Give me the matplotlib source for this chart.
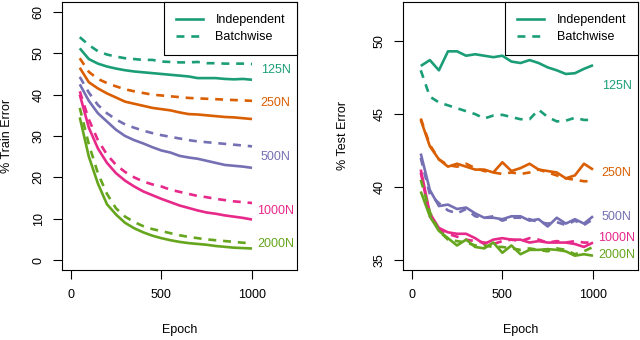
import matplotlib.pyplot as plt

plt.rcParams["font.family"] = ["Liberation Sans", "DejaVu Sans"]
plt.rcParams["font.size"] = 9

epochs = list(range(50, 1001, 50))
sizes = ["125N", "250N", "500N", "1000N", "2000N"]
colors = ["#1B9E77", "#D95F02", "#7570B3", "#E7298A", "#66A61E"]

# train error (%), independent vs batchwise
train_indep = {
    "125N": [51.2, 48.6, 47.5, 46.8, 46.3, 45.9, 45.6, 45.4, 45.2, 45.0,
             44.8, 44.6, 44.4, 44.0, 44.0, 44.0, 43.8, 43.7, 43.8, 43.6],
    "250N": [46.5, 43.0, 41.5, 40.3, 39.3, 38.3, 37.8, 37.3, 36.8, 36.5,
             36.2, 35.7, 35.3, 35.2, 35.0, 34.8, 34.6, 34.5, 34.3, 34.1],
    "500N": [42.5, 38.5, 35.5, 33.5, 31.5, 30.0, 29.0, 28.2, 27.3, 26.5,
             26.0, 25.2, 24.8, 24.5, 24.0, 23.5, 23.0, 22.8, 22.6, 22.3],
    "1000N": [40.0, 32.0, 27.0, 23.5, 21.0, 19.2, 17.8, 16.6, 15.7, 14.8,
              14.0, 13.2, 12.6, 12.0, 11.5, 11.2, 10.8, 10.5, 10.2, 9.8],
    "2000N": [34.5, 25.0, 18.5, 13.5, 11.0, 9.0, 7.7, 6.7, 5.9, 5.3,
              4.8, 4.4, 4.1, 3.9, 3.7, 3.4, 3.2, 3.0, 2.9, 2.8],
}
train_batch = {
    "125N": [53.9, 52.0, 50.5, 49.7, 49.2, 48.8, 48.6, 48.4, 48.4, 48.0,
             47.9, 47.8, 47.8, 47.9, 47.6, 47.6, 47.5, 47.5, 47.5, 47.4],
    "250N": [48.8, 45.5, 43.8, 42.8, 42.0, 41.3, 40.8, 40.4, 40.0, 39.8,
             39.6, 39.4, 39.2, 39.1, 39.0, 38.9, 38.8, 38.7, 38.6, 38.5],
    "500N": [44.3, 40.5, 37.5, 35.5, 34.0, 32.8, 32.0, 31.3, 30.7, 30.2,
             29.8, 29.4, 29.0, 28.7, 28.5, 28.3, 28.1, 27.9, 27.7, 27.5],
    "1000N": [40.8, 34.0, 29.0, 25.5, 23.0, 21.3, 20.0, 19.0, 18.3, 17.8,
              17.0, 16.5, 16.0, 15.5, 15.2, 14.8, 14.5, 14.2, 14.0, 13.8],
    "2000N": [36.8, 28.0, 21.0, 16.0, 12.5, 10.5, 9.2, 8.2, 7.5, 7.0,
              6.5, 6.0, 5.6, 5.3, 5.0, 4.8, 4.6, 4.4, 4.2, 4.0],
}

# test error (%)
test_indep = {
    "125N": [48.3, 48.7, 48.0, 49.3, 49.3, 49.0, 49.1, 49.0, 48.9, 49.0,
             48.6, 48.5, 48.7, 48.5, 48.2, 48.0, 47.75, 47.8, 48.1, 48.35],
    "250N": [44.6, 42.8, 41.9, 41.4, 41.6, 41.4, 41.2, 41.2, 41.0, 41.7,
             41.1, 41.3, 41.6, 41.2, 41.1, 41.0, 40.6, 40.8, 41.6, 41.2],
    "500N": [42.3, 39.8, 38.7, 38.8, 38.5, 38.6, 38.2, 37.9, 37.9, 37.8,
             38.0, 38.0, 37.7, 37.8, 37.3, 37.9, 37.5, 37.8, 37.5, 38.0],
    "1000N": [41.2, 38.2, 37.2, 36.9, 36.8, 36.8, 36.5, 36.1, 36.4, 36.5,
              36.4, 36.4, 36.2, 36.3, 36.2, 36.2, 36.2, 36.1, 35.9, 36.2],
    "2000N": [39.7, 38.0, 37.0, 36.5, 36.0, 36.4, 35.9, 35.8, 36.2, 35.5,
              36.0, 35.4, 35.7, 35.7, 35.75, 35.7, 35.6, 35.3, 35.4, 35.3],
}
test_batch = {
    "125N": [48.0, 46.2, 45.8, 45.6, 45.4, 45.2, 45.0, 44.7, 44.9, 44.95,
             44.8, 44.65, 44.65, 45.3, 44.8, 44.5, 44.55, 44.75, 44.6, 44.6],
    "250N": [44.7, 42.9, 41.9, 41.5, 41.4, 41.6, 41.3, 41.1, 41.0, 40.9,
             41.0, 40.9, 41.0, 41.2, 41.0, 40.8, 40.6, 40.5, 40.4, 40.4],
    "500N": [42.0, 39.5, 38.9, 38.4, 38.2, 38.5, 38.0, 37.9, 38.0, 37.7,
             37.9, 37.9, 37.8, 37.6, 37.5, 37.6, 37.4, 37.7, 37.4, 37.8],
    "1000N": [41.0, 38.0, 37.1, 36.8, 36.6, 36.4, 36.3, 36.2, 36.1, 36.3,
              36.4, 36.3, 36.5, 36.4, 36.2, 36.3, 36.2, 36.3, 36.2, 36.2],
    "2000N": [40.5, 38.3, 37.0, 36.4, 36.3, 36.2, 36.0, 36.0, 35.9, 35.9,
              35.8, 35.7, 35.8, 35.7, 35.6, 35.8, 35.7, 35.4, 35.6, 35.9],
}

train_label_y = [46.0, 37.9, 25.0, 11.9, 3.8]
test_label_y = [46.94, 40.97, 37.93, 36.5, 35.36]
label_x = 1130

fig = plt.figure(figsize=(6.4, 3.4), dpi=100)
W, H = 640, 340


def px_axes(left, right, top, bottom):
    return fig.add_axes([left / W, 1 - bottom / H, (right - left) / W, (bottom - top) / H])


ax1 = px_axes(62, 297, 2, 270)
ax2 = px_axes(403, 638, 2, 270)

panels = [
    (ax1, train_indep, train_batch, train_label_y, (-2.4, 62.4), [0, 10, 20, 30, 40, 50, 60], "% Train Error", 7),
    (ax2, test_indep, test_batch, test_label_y, (34.32, 52.68), [35, 40, 45, 50], "% Test Error", 343),
]

lw = 1.9
dash = (3.0, 2.6)
for ax, indep, batch, lab_y, ylim, yticks, ylabel, ylab_x in panels:
    for name, c, ly in zip(sizes, colors, lab_y):
        ax.plot(epochs, indep[name], color=c, lw=lw, solid_capstyle="butt")
        ax.plot(epochs, batch[name], color=c, lw=lw, dashes=dash)
        ax.text(label_x, ly, name, color=c, ha="center", va="center")
    ax.set_xlim(-48, 1248)
    ax.set_ylim(*ylim)
    ax.set_xticks([0, 500, 1000])
    ax.set_yticks(yticks)
    ax.tick_params(direction="out", length=6.5, width=0.8, pad=6)
    ax.tick_params(axis="x", pad=7)
    plt.setp(ax.get_yticklabels(), rotation=90, va="center")
    for s in ax.spines.values():
        s.set_linewidth(0.8)

    h1, = ax.plot([], [], color=colors[0], lw=lw, label="Independent")
    h2, = ax.plot([], [], color=colors[0], lw=lw, dashes=dash, label="Batchwise")
    leg = ax.legend(handles=[h1, h2], loc="upper right", borderaxespad=0,
                    fancybox=False, framealpha=1, edgecolor="black",
                    handlelength=2.2, handletextpad=1.0, labelspacing=0.45,
                    borderpad=0.95)
    leg.get_frame().set_linewidth(0.8)

    cx = (ax.get_position().x0 + ax.get_position().x1) / 2
    fig.text(cx, 1 - 330 / H, "Epoch", ha="center", va="center")
    fig.text(ylab_x / W, 1 - 136 / H, ylabel, rotation=90, ha="center", va="center")

fig.savefig("out.png", dpi=100)
